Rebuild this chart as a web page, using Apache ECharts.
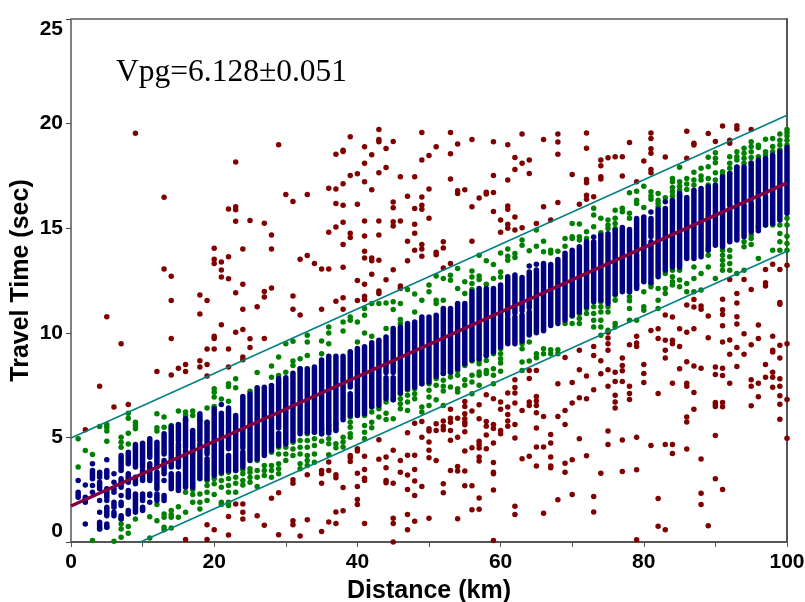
<!DOCTYPE html>
<html>
<head>
<meta charset="utf-8">
<title>Vpg travel time</title>
<style>
html,body{margin:0;padding:0;background:#fff;}
#main{width:805px;height:602px;}
</style>
<script src="https://cdn.jsdelivr.net/npm/echarts@6/dist/echarts.min.js"></script>
</head>
<body>
<div id="main"></div>
<script>
var xTicks = [0, 20, 40, 60, 80, 100];
var yTicks = [0, 5, 10, 15, 20, 25];
var annotation = 'Vpg=6.128\u00b10.051';

// fitted lines, end points: [km, sec]
var fitLine = [[0, 1.72], [100, 17.17]];
var upperLine = [[0, 4.97], [100, 20.4]];
var lowerLine = [[9.7, 0], [100, 13.9]];

// rejected picks: [km, [sec, sec, ...]]
var redPicks = [
	[2,[5.36]],[4,[7.45]],[5,[10.77]],[6,[6.45]],[7,[9.48]],[8,[6.57]],[9,[19.54]],[12,[8.15]],
	[13,[16.48,13.05]],[14,[12.7,11.54,9.73,7.98]],[15,[8.31]],[16,[8.49,8.15,0.12]],
	[18,[11.81,10.9,8.66,8.36]],[19,[11.54,9.22,8.49,7.93,0.83,0.12]],[20,[14.04,13.52,13.31,9.83,9.73,9.22,0.58]],
	[21,[13.39,13,12.67,10.39]],[22,[15.92,13.64,12.58,9.22,8.36,1.22,0.34]],[23,[18.16,16.02,15.88,15.33,11.92,10.03,1.82]],
	[24,[14,12.32,11.12,10.16,8.84,8.71,1.82,1.42,1.1]],[25,[15.37,9.72,9.3]],[26,[11.25,1.26]],
	[27,[15.24,11.97,11.71,9.73,0.8]],[28,[14.68,14,12.14,2.09]],[29,[18.99,2.35,0.35]],[30,[16.61]],
	[31,[16.28,11.76,11.12,2.97,2.81,1.02,0.83]],[32,[13.52,10.85,0.29]],[33,[16.61,13.69,3.21,1.06]],[34,[13.31]],
	[35,[13.05,11.12,3.42,3.26,2.81,0.5]],[36,[16.91,14.81,13.05,3.82,3.42,0.96]],[37,[18.54,16.87,16.18,15.06,11.51,3.21,3.07,1.44,0.88]],
	[38,[18.73,18.67,17.12,16.1,15.29,14.22,13.13,11.68,11.12,2.61,1.49]],[39,[19.37,17.52,14.76,14.55,4.14,4.03,3.85]],
	[40,[17.6,16.15,12.5,11.54,4.46,4.35,3.29,2.65,2.03,1.79]],
	[41,[18.89,18.11,17.22,15.34,14.63,13.9,13.57,12.32,11.75,11.59,4.1,3.47,3.05,2.94,0.88]],
	[42,[18.51,16.84,13.57,13.44,12.8]],[43,[19.72,19.24,19.13,17.65,15.34,14.68,13.47,12,11.88,4.89,3.95]],
	[44,[18.81,17.9,12.53,4.06,3.55,2.94,2.83]],[45,[19.15,16.25,15.98,15.31,15.1,13.01,4.38,2.81,1.14,0.88,0]],
	[46,[17.46,15.34,12.24,12.12,3.9,3.34]],[47,[16.53,14.38,13.44,5.22,4.15,3.2,2.51,1.31,0.58]],
	[48,[17.46,15.94,15.19,14.76,13.95,5.68,4.15,3.47,2.91,2.22,0.99]],
	[49,[19.58,18.26,16.49,16.1,15.9,14.22,14,13.66,5.76,5.01,2.65]],[50,[18.48,16.87,15.47,5.41,5.3,4.78,4.38,4.03,1.14]],
	[51,[18.89,13.85,13.73,5.65,5.33,3.9]],[52,[14.35,14.05,13.1,5.78,5.53,5.37,2.78,2.35]],
	[53,[19.58,18.56,17.35,13.31,6.34,5.92,5.73,5.33,4.86,3.42]],[54,[19.02,16.79,16.66,5.92,5.01,3.61,3.39,1.11]],
	[55,[16.84,6.72,6.48,6.13,5.89,5.73,5.6,5.27,4.35,3.39,2.69]],[56,[19.24,16.02,14.38,6.26,4.5,2.69,1.54]],
	[57,[16.44,6.56,5.89,4.81,4.66,4.49,4.06,3.87,2.1,1.57]],[58,[16.72,16.63,7.04,5.76,5.53,5.11,4.46]],
	[59,[19.13,17.52,16.71,15.8,6.85,5.62,5.43,4.73,3.8,3.34,3.26,2.48,0.07]],[60,[15.39,14.81,6.69,6.34,5.33,5.17]],
	[61,[18.99,17.3,16.06,15.9,15.19,15,7.12,6.45,6.1,5.78,5.53]],[62,[18.38,17.81,15.54,14.91,7.76,7.38,7.12,6.64,5.62,4.97,1.71,1.31]],
	[63,[19.5,18.1,15.02,6.29,3.98]],[64,[18.26,17.62,8.2,7.81,6.69,6.53,4.1]],[65,[15.23,8.2,6.96,6.74,6.53,6.18,5.45,4.54,3.63]],
	[66,[19.24,16.02,6,4.54,1.38]],[67,[15.39,5.14,4.73,4.06,3.63,3.55]],[68,[19.5,19.12,18.54,16.23,7.57,6,2.02]],
	[69,[8.82,6.29,5.62,3.77,3.34]],[70,[17.57,7.63,6.64,3.93,2.27]],[71,[16.15,9.16,8.23,6.89,4.93]],
	[72,[19.55,18.82,17.33,17.17,16.58,16.38,7.93,6.85,4.12]],[73,[16.5,9.35,8.92,7.28,2.17,1.44]],
	[74,[18.26,17.99,17.46,17.35,8.66,8.04,3.29]],[75,[18.37,10.03,9.75,9.48,9.16,8.23,7.45,5.3,4.66]],
	[76,[18.42,8.12,7.67,7.02,6.69,6.41]],[77,[18.42,17.49,8.79,8.44,8.18,7.67,4.88,3.37]],[78,[19.1,9.43,7.45,7.1,6.81]],
	[79,[17.22,9.83,9.51,9.35,5.01,3.45,0.11]],[80,[18.21,8.49,8.06,7.63]],[81,[19.55,19.29,18.8,18.58,17.81,17.65,10.11,4.61]],
	[82,[10.19,9.73,7.1,2.08,0.75]],[83,[18.4,10.85,9.64,9.17,8.79,4.66,0.58]],[84,[10.75,9.64,9.48,7.59,4.66,4.23]],
	[85,[10.19,9.35,8.28]],[86,[19.63,18.34,11.33,10.03,8.62,7.59,7.45,5.97,5.74,4.44]],
	[87,[19.06,18.98,11.59,11.23,10.19,8.41,7.15,6.35]],[88,[11.28,11.12,8.31,3.97,2.33,1.79]],[89,[19.53,10.8,9.76,0.78]],
	[90,[19.15,8.36,8.01,6.67,6.57,6.48,5.09,3.02]],[91,[19.88,11.6,11.1,10.88,10.34,9.56,8.31,7.96,6.67,6.46,2.51]],
	[92,[19.21,19.06,12.55,9.65,8.97,7.59]],[93,[19.9,19.74,11.88,11.42,10.77,10.42,9.3,8.39]],[94,[12.55,9.96,8.97]],
	[95,[19.72,12.07,9.43,7.75,7.45,6.51]],[96,[10.37,9.73,7.59,6.94]],[97,[13.03,12.39,12.24,8.49,7.88]],
	[98,[13.28,9.83,9.16,9.08,8.11,7.88,7.4]],[99,[13.03,11.45,11.36,9.4,8.79,7.8,7.45,6.99,6.59,5.87]],[100,[13.23,9.48,6.81,4.96]]
];

// picks kept but outside the 2 sec band: [km, [sec, sec, ...]]
var greenPicks = [
	[1,[4.93,3.58]],[2,[4.37]],[3,[4.18,0.07]],[4,[5.52,0.62]],[5,[5.62,5.49,5.3,4.82,0.7]],[6,[0.03]],
	[7,[5.01,4.77,4.53,1.1,0.86,0.62,0.23]],[8,[6.16,5.92,5.2,4.69,0.74,0.42]],[9,[5.73,5.57,5.41,1.1]],[10,[1.58]],
	[11,[1.21,0.19]],[12,[6.13,5.46,5.3,1.79,1.02]],[13,[5.97,5.49,1.34,1.18,0.7,0.58]],[14,[5.57,5.41,1.5,1.31,1.18,0.67]],
	[15,[6.26,1.69,1.18]],[16,[6.21,6.05,5.81,2.38,1.42]],[17,[6.26,6.05,2.51,2.27,1.9]],[18,[5.81,2.3,1.9,1.58]],
	[19,[6.41,5.73,2.94,2.7,2.38,1.98]],[20,[7.32,7.16,6.93,6.48,3.02,2.78,2.27]],[21,[6.84,3.26,2.94,2.62,1.9,1.79]],
	[22,[7.56,7.43,6.73,3.34,3.02,2.7,2.38,1.9,1.74]],[23,[7.8,7.37,3.42,3.1,2.81,2.38]],[24,[3.45,3.26,2.94,2.73]],
	[25,[7.21,3.5,3.34,3.1,2.86]],[26,[8.1,3.89,3.42,3.1,2.65]],[27,[3.66,3.42,3.18]],[28,[8.41,7.88,4.29,3.66,3.42,3.1]],
	[29,[8.84,7.96,4.53,4.21,3.74,3.5,3.26]],[30,[9.48,8.12,4.53,4.21,3.89]],[31,[9.6,8.65,8.44,4.77,4.45,4.13]],
	[32,[8.76,8.28,4.85,4.53,4.21,3.74,3.5]],[33,[9.88,9.56,8.92,5.17,4.85,4.53,4.13,3.89,3.66]],[34,[5.25,4.93,4.61,4.21,3.81]],
	[35,[9.61,9,5.41,5.17,4.81]],[36,[10.28,9.99,9.48,5.57,5.33,4.93,4.7,4.17]],[37,[5.65,5.41,4.7,4.5]],[38,[10.52,10.09,5.01,4.78,4.54]],
	[39,[10.76,10.6,5.97,5.73,5.49,5.17,5.01]],[40,[10.52,9.56]],[41,[11.16,10.84,9.99,6.05,5.57,5.25,4.94]],
	[42,[11.4,9.83,6.45,6.21,5.73,5.46]],[43,[11.4,6.37,5.97]],[44,[11.43,10.2,6.69,6.16,5.86]],[45,[11.48,11.11,6.8,5.89]],
	[46,[11.4,10.63,10.44,7.09,6.85,6.61,6.37]],[47,[12.07,7.28,7.01,6.69,6.29]],[48,[11.85,11,7.33,7.09,6.85]],[49,[11.56,7.57,6.45,6.21]],
	[50,[12.28,11.96,7.57,7.25,6.93,6.53]],[51,[12.72,11.56,11.4,7.81,7.49,6.8]],[52,[12.6,11.56,8.05,7.73,7.44,7.22,6.53]],
	[53,[12.75,12.51,8.12,7.89,7.41]],[54,[13.07,12.12,8.2,7.97,7.33,7.17]],[55,[12.44,11.88,8.44,7.76,7.49]],
	[56,[12.96,12.67,12.36,12.07,8.65,7.97,7.65,7.09]],[57,[13.71,12.71,12.55,8.68,8.52,8.13,7.97,7.49]],[58,[13.44,12.32,8.92,8.68,8.2,8.05]],
	[59,[13.26,12.59,9,8.28,7.97,7.57]],[60,[13.82,12.91,12.67,9.24,9,8.76,8.56,8.16]],[61,[14,13.66,13.47]],[62,[13.79,13.6]],
	[63,[14.43,14.19,9.48,9.24,8.6,8.2]],[64,[13.92,9.56,8.65]],[65,[14.91,14.14,9,8.81]],[66,[14.38,13.87,9.24,9]],[67,[13.95,13.82,9.19,9]],
	[68,[13.9,9.19,9]],[69,[14.51,14.14,10.44]],[70,[15.23,14.59,14.51,10.79,10.44]],[71,[15.2,14.59,14.43,10.92,10.68,10.44]],
	[72,[14.83,14.51,11.16,10.92]],[73,[15.95,15.63,15.07,11.24,10.92,10.6,10.28]],[74,[15.47,14.78,11.48,11.24,11,10.6,10.28,9.88]],
	[75,[15.39,15.15,14.99,11.24,11,10.12]],[76,[15.86,15.47,15.23,14.99,11.8,11.56,10.44,10.28]],[77,[15.95,15.79]],
	[78,[16.7,15.71,15.47,11.96,11.72,11.53,11.16,10.6]],[79,[16.77,16.34,16.18,12.28,10.6]],[80,[17.01,15.99,11.96,11.24,11.08]],
	[81,[16.74,16.54,16.38,12.36,12.2]],[82,[16.66,16.34,16.18,16.02,12.12,11.56,11.16]],[83,[16.46,12.83,12.12,11.88]],
	[84,[17.38,17.22,16.95,16.74,16.54,12.99,12.68,12.44,12.28]],[85,[17.91,17.22,17.01,16.82,16.54,12.99,12.52,12.2]],
	[86,[17.38,17.11,16.85,12.36,11.96]],[87,[17.67,17.3,17.06,13.15,12.6,11.96]],[88,[17.86,17.49,17.3,12.83,12.04]],
	[89,[18.39,17.94,17.38,17.06,14.03,13.71,13.15]],[90,[18.61,18.34,18.13,17.65,17.3,12.6]],[91,[17.7,17.54,13.95,13.71,13.47,13.23,12.99]],
	[92,[18.42,18.1,17.86,17.62,13.95,13.63,13.31,12.99]],[93,[18.66,18.42,18.26,17.91,12.83]],[94,[18.82,18.58,18.34,18.1,14.35,14.11,12.99]],
	[95,[19.13,18.9,18.66,18.38,18.13,14.67,14.51,14.22]],[96,[18.97,18.86,18.42,15.07,13.55]],[97,[19.25,18.66,18.5,15.15]],
	[98,[19.29,18.9,18.66,15.15,13.95]],[99,[19.5,19.21,18.98,18.74,15.15,14.75,14.35,13.95]],[100,[19.72,19.57,19.41,19.21,18.98,15.47,15.15,14.62,14.27,13.95]]
];

// picks inside the band, merged into columns by eye: [km, low sec, high sec]
var blueColumns = [
	[1,2.94,2.94],[1,2.14,2.38],[2,2.73,2.73],[2,1.9,2.14],[2,0.86,0.86],[3,3.74,3.74],[3,3.02,3.42],[3,2.7,2.7],[3,2.38,2.38],
	[4,3.1,3.34],[4,2.54,2.86],[4,1.98,1.98],[4,1.42,1.42],[4,0.62,0.94],[5,3.93,3.93],[5,3.1,3.42],[5,2.14,2.54],[5,1.98,1.98],[5,1.26,1.66],[5,0.7,0.86],
	[6,3.26,3.26],[6,2.86,2.86],[6,2.38,2.54],[6,1.66,1.9],[6,1.26,1.42],[7,3.42,4.13],[7,2.62,3.02],[7,2.22,2.22],[7,1.74,1.9],[7,1.1,1.26],
	[8,3.74,4.29],[8,2.86,3.26],[8,2.14,2.46],[8,1.34,1.5],[9,3.58,4.66],[9,2.78,3.1],[9,1.42,2.3],[10,3.58,4.72],[10,2.94,3.42],[10,1.98,2.3],[10,1.5,1.66],
	[11,4.05,4.93],[11,2.94,3.74],[11,2.22,2.3],[11,1.9,1.9],[12,3.58,4.77],[12,2.54,3.34],[12,1.98,2.3],[13,4.21,5.17],[13,3.26,3.89],[13,2.94,2.94],[13,1.98,2.22],
	[14,3.58,5.52],[14,2.54,3.26],[15,4.85,5.62],[15,3.58,4.69],[15,2.46,3.26],[16,4.53,5.89],[16,2.62,4.37],[17,2.62,5.33],[18,4.85,6.13],[18,3.02,4.69],
	[19,4.22,5.73],[19,3.02,3.98],[20,3.18,6.37],[21,6.57,6.57],[21,3.34,6.16],[22,4.46,6.41],[22,3.42,4.14],[23,3.42,6.05],[24,4.5,6.96],[24,3.58,4.3],[25,3.89,7.08],[26,3.97,7.37],[27,4.13,7.4],
	[28,4.37,7.48],[29,5.45,7.8],[29,4.61,5.2],[30,4.69,7.85],[31,4.85,8.07],[32,5.17,8.28],[33,5.25,8.28],[34,5.25,8.36],[35,5.17,8.7],[36,5.21,8.88],[37,5.33,8.88],
	[38,5.84,8.88],[39,7.41,9.09],[39,6.05,7.09],[40,6.05,9.25],[41,6.13,9.33],[42,6.48,9.52],[43,6.53,9.64],[44,8.1,9.8],[44,6.85,7.85],[45,8.1,10.2],[45,6.8,7.85],[46,7.12,10.28],[47,7.33,10.44],
	[48,7.41,10.52],[49,7.57,10.76],[50,7.65,10.76],[51,7.92,10.84],[52,8.05,11.16],[53,8.12,11.16],[54,8.28,11.4],[55,8.52,11.4],[56,8.71,11.96],[57,8.76,12.12],
	[58,8.92,12.12],[59,9.08,12.12],[60,9.32,12.28],[61,10.85,12.68],[61,9.48,10.7],[62,10.95,12.76],[62,9.48,10.75],[63,11.05,12.64],[63,9.6,10.85],[64,13.19,13.19],[64,11.2,12.91],[64,9.9,11],[65,13.28,13.28],[65,10,13],[66,10.1,13.31],[67,10.35,13.27],
	[68,10.45,13.5],[69,10.6,13.8],[70,10.84,13.95],[71,11,14.11],[72,11.24,14.35],[73,14.58,14.58],[73,11.48,14.35],[74,11.56,14.66],[75,11.4,14.74],[76,11.85,14.9],[77,11.96,15.03],
	[78,13.87,14.94],[78,11.96,13.71],[79,13.87,15.46],[79,12.12,13.71],[80,12.44,15.54],[81,15.78,15.78],[81,14.6,15.46],[81,12.39,14.35],[82,12.68,15.89],[83,16.26,16.26],[83,12.99,15.94],[84,13.15,16.34],[85,13.15,16.66],[86,13.55,16.47],[87,13.55,16.82],
	[88,13.63,16.9],[89,13.95,16.98],[90,14.19,17.06],[91,14.11,17.46],[92,16.1,17.62],[92,14.35,15.9],[93,16.2,17.93],[93,14.43,16],[94,16.3,17.93],[94,14.59,16.1],[95,16.4,18.09],[95,14.83,16.2],[96,16.55,18.25],[96,14.88,16.35],[97,16.7,18.33],[97,15.15,16.5],
	[98,15.23,18.49],[99,15.39,18.65],[100,15.71,18.86]
];

function flatten(picks) {
	var out = [];
	picks.forEach(function(col) {
		col[1].forEach(function(sec) {
			out.push([col[0], sec]);
		});
	});
	return out;
}

var tickFont = { color: '#000', fontFamily: 'Liberation Sans', fontWeight: 'bold', fontSize: 21 };
var nameFont = { color: '#000', fontFamily: 'Liberation Sans', fontWeight: 'bold', fontSize: 25 };

var myChart = echarts.init(document.getElementById('main'), null, { renderer: 'canvas' });
var option = {
	animation: false,
	backgroundColor: '#fff',
	title: {
		text: annotation,
		left: 111,
		top: 52,
		textStyle: { color: '#000', fontFamily: 'Liberation Serif', fontWeight: 'normal', fontSize: 31.5 }
	},
	grid: { left: 71, right: 18, top: 19, bottom: 60, outerBoundsMode: 'none', show: true, borderColor: '#000', borderWidth: 1 },
	xAxis: {
		type: 'value',
		min: 0,
		max: 100,
		interval: 20,
		name: 'Distance (km)',
		nameLocation: 'middle',
		nameGap: 37,
		nameMoveOverlap: false,
		nameTextStyle: nameFont,
		axisLine: { show: true, lineStyle: { color: '#555', width: 2 } },
		axisTick: { show: true, length: 5, lineStyle: { color: '#555', width: 1 } },
		minorTick: { show: true, splitNumber: 2, length: 5, lineStyle: { color: '#555', width: 1 } },
		splitLine: { show: false },
		axisLabel: Object.assign({ margin: 10, customValues: xTicks }, tickFont)
	},
	yAxis: [{
		type: 'value',
		min: 0,
		max: 25,
		interval: 5,
		name: 'Travel Time (sec)',
		nameLocation: 'middle',
		nameGap: 37,
		nameMoveOverlap: false,
		nameTextStyle: nameFont,
		axisLine: { show: true, lineStyle: { color: '#808080', width: 2 } },
		axisTick: { show: true, length: 5, lineStyle: { color: '#444', width: 1 } },
		splitLine: { show: false },
		axisLabel: Object.assign({
			margin: 8,
			customValues: yTicks,
			verticalAlignMinLabel: 'bottom',
			verticalAlignMaxLabel: 'top'
		}, tickFont)
	}, {
		type: 'value',
		min: 0,
		max: 25,
		interval: 5,
		position: 'right',
		axisLine: { show: true, lineStyle: { color: '#555', width: 2 } },
		axisTick: { show: false },
		axisLabel: { show: false },
		splitLine: { show: false }
	}],
	series: [{
		name: 'rejected',
		type: 'scatter',
		clip: false,
		symbolSize: 5.5,
		itemStyle: { color: '#800000', opacity: 1 },
		data: flatten(redPicks),
		z: 3
	}, {
		name: 'outside band',
		type: 'scatter',
		clip: false,
		symbolSize: 5.5,
		itemStyle: { color: '#008000', opacity: 1 },
		data: flatten(greenPicks),
		z: 4
	}, {
		name: 'inside band',
		type: 'custom',
		clip: false,
		data: blueColumns,
		encode: { x: 0, y: [1, 2] },
		renderItem: function(params, api) {
			var hi = api.coord([api.value(0), api.value(2)]);
			var lo = api.coord([api.value(0), api.value(1)]);
			return {
				type: 'rect',
				shape: { x: lo[0] - 2.75, y: hi[1] - 2.75, width: 5.5, height: lo[1] - hi[1] + 5.5, r: 2.75 },
				style: { fill: '#000080' }
			};
		},
		z: 5
	}, {
		type: 'line',
		data: upperLine,
		symbol: 'none',
		lineStyle: { color: '#008080', width: 1.5 },
		z: 6
	}, {
		type: 'line',
		data: lowerLine,
		symbol: 'none',
		lineStyle: { color: '#008080', width: 1.5 },
		z: 6
	}, {
		type: 'line',
		data: fitLine,
		symbol: 'none',
		lineStyle: { color: '#800040', width: 3.5 },
		z: 7
	}]
};
myChart.setOption(option);
</script>
</body>
</html>
